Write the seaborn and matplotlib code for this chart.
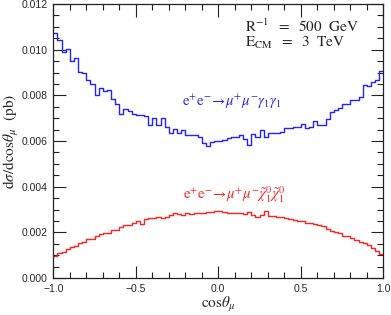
import numpy as np
import pandas as pd
import matplotlib
matplotlib.use("Agg")
import matplotlib.pyplot as plt
import seaborn as sns
from matplotlib.ticker import MultipleLocator

# ---- data (80 bins in cos(theta_mu) from -1 to 1) ----
n_bins = 80
x_range = (-1.0, 1.0)

gamma_vals = [
    0.01075, 0.01044, 0.00990, 0.01003, 0.00949, 0.00963, 0.00904, 0.00900,
    0.00865, 0.00850, 0.00800, 0.00830, 0.00820, 0.00824, 0.00784, 0.00760,
    0.00720, 0.00740, 0.00730, 0.00720, 0.00713, 0.00713, 0.00710, 0.00670,
    0.00700, 0.00670, 0.00700, 0.00660, 0.00637, 0.00654, 0.00637, 0.00650,
    0.00627, 0.00628, 0.00628, 0.00616, 0.00590, 0.00576, 0.00594, 0.00599,
    0.00599, 0.00604, 0.00612, 0.00616, 0.00618, 0.00626, 0.00609, 0.00581,
    0.00631, 0.00616, 0.00646, 0.00619, 0.00634, 0.00635, 0.00635, 0.00641,
    0.00656, 0.00656, 0.00660, 0.00663, 0.00675, 0.00657, 0.00660, 0.00687,
    0.00672, 0.00672, 0.00697, 0.00726, 0.00737, 0.00746, 0.00763, 0.00760,
    0.00778, 0.00781, 0.00793, 0.00844, 0.00840, 0.00859, 0.00869, 0.00906,
]

chi_vals = [
    0.00098, 0.00111, 0.00115, 0.00125, 0.00134, 0.00140, 0.00152, 0.00158,
    0.00170, 0.00170, 0.00185, 0.00191, 0.00195, 0.00197, 0.00210, 0.00210,
    0.00225, 0.00232, 0.00232, 0.00239, 0.00250, 0.00236, 0.00257, 0.00261,
    0.00261, 0.00269, 0.00261, 0.00269, 0.00276, 0.00286, 0.00280, 0.00276,
    0.00283, 0.00280, 0.00283, 0.00286, 0.00286, 0.00289, 0.00289, 0.00292,
    0.00292, 0.00288, 0.00286, 0.00286, 0.00286, 0.00286, 0.00279, 0.00287,
    0.00274, 0.00269, 0.00274, 0.00295, 0.00272, 0.00272, 0.00266, 0.00266,
    0.00262, 0.00257, 0.00254, 0.00251, 0.00249, 0.00242, 0.00240, 0.00238,
    0.00231, 0.00229, 0.00215, 0.00207, 0.00203, 0.00196, 0.00186, 0.00182,
    0.00174, 0.00168, 0.00158, 0.00152, 0.00143, 0.00132, 0.00118, 0.00104,
]

x_ticks = [-1.0, -0.5, 0.0, 0.5, 1.0]
y_ticks = [0.000, 0.002, 0.004, 0.006, 0.008, 0.010, 0.012]

edges = np.linspace(x_range[0], x_range[1], n_bins + 1)
centers = 0.5 * (edges[:-1] + edges[1:])
df = pd.DataFrame({"cos": np.concatenate([centers, centers]),
                   "w": np.concatenate([gamma_vals, chi_vals]),
                   "proc": ["gamma"] * n_bins + ["chi"] * n_bins})

sns.set_style("ticks")
plt.rcParams["font.family"] = ["Liberation Sans", "DejaVu Sans"]
plt.rcParams["mathtext.fontset"] = "stix"

fig = plt.figure(figsize=(3.91, 3.15), dpi=100)
ax = fig.add_axes([53.3 / 391, 1 - 278 / 315, (383.3 - 53.3) / 391, (278 - 4) / 315])

sns.histplot(data=df[df.proc == "gamma"], x="cos", weights="w", bins=n_bins,
             binrange=x_range, element="step", fill=False, color="#2222ff",
             linewidth=1.0, ax=ax)
sns.histplot(data=df[df.proc == "chi"], x="cos", weights="w", bins=n_bins,
             binrange=x_range, element="step", fill=False, color="#ff2020",
             linewidth=1.0, ax=ax)

ax.set_xlim(-1, 1)
ax.set_ylim(0, 0.012)
ax.set_xticks(x_ticks)
ax.set_xticklabels(["\u22121.0", "\u22120.5", "0.0", "0.5", "1.0"])
ax.set_yticks(y_ticks)
ax.set_yticklabels([f"{v:.3f}" for v in y_ticks])
ax.xaxis.set_minor_locator(MultipleLocator(0.1))
ax.yaxis.set_minor_locator(MultipleLocator(0.0005))
ax.tick_params(which="both", direction="in", top=True, right=True,
               labelsize=7.5, width=0.8, color="#222222")
ax.tick_params(which="major", length=9, pad=4)
ax.tick_params(which="minor", length=4.5)
for s in ax.spines.values():
    s.set_linewidth(0.9)
    s.set_color("#222222")

ax.set_xlabel(r"$\mathrm{cos}\theta_{\mu}$", fontsize=11)
ax.set_ylabel(r"$\mathrm{d}\sigma/\mathrm{dcos}\theta_{\mu}\ \ \mathrm{(pb)}$",
              fontsize=11)
ax.xaxis.set_label_coords(0.5, -0.097)
ax.yaxis.set_label_coords(-0.128, 0.5)
ax.xaxis.label.set_va("center")
ax.yaxis.label.set_va("center")

ax.text(0.16, 0.01103, r"$\mathrm{R}^{-1}\ \ =\ \ 500\ \ \mathrm{GeV}$",
        fontsize=11, va="center", ha="left", color="#222222")
ax.text(0.16, 0.01030, r"$\mathrm{E}_{\mathrm{CM}}\ \ =\ \ 3\ \ \mathrm{TeV}$",
        fontsize=11, va="center", ha="left", color="#222222")
ax.text(-0.22, 0.0077,
        r"$\mathrm{e}^{+}\mathrm{e}^{-}\!\rightarrow\!\mu^{+}\mu^{-}\gamma_{1}\gamma_{1}$",
        fontsize=10.5, va="center", ha="left", color="#2222ff")
ax.text(-0.215, 0.00365,
        r"$\mathrm{e}^{+}\mathrm{e}^{-}\!\rightarrow\!\mu^{+}\mu^{-}\tilde{\chi}^{0}_{1}\tilde{\chi}^{0}_{1}$",
        fontsize=10.5, va="center", ha="left", color="#ff2020")

fig.savefig("out.png", dpi=100)
